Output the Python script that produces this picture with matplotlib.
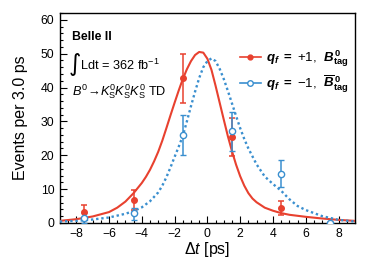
import matplotlib.pyplot as plt
import numpy as np
from matplotlib.lines import Line2D
from matplotlib.ticker import MultipleLocator

plt.rcParams['font.family'] = ['Liberation Sans', 'DejaVu Sans']
plt.rcParams['mathtext.fontset'] = 'custom'
plt.rcParams['mathtext.rm'] = 'Liberation Sans'
plt.rcParams['mathtext.it'] = 'Liberation Sans:italic'
plt.rcParams['mathtext.bf'] = 'Liberation Sans:bold'
plt.rcParams['mathtext.bfit'] = 'Liberation Sans:italic:bold'

# binned data (bin centres, 3 ps bins)
dt_bins = [-7.5, -4.5, -1.5, 1.5, 4.5, 7.5]
red_y = [3.3, 6.8, 42.7, 25.5, 4.5, 0.1]
red_lo = [1.9, 2.9, 7.2, 5.6, 2.1, 0.1]
red_hi = [2.0, 2.8, 7.3, 5.4, 2.0, 0.0]
blue_y = [1.4, 2.9, 26.0, 27.1, 14.5, 0.1]
blue_lo = [1.4, 2.0, 5.8, 5.9, 4.0, 0.1]
blue_hi = [1.5, 1.5, 5.8, 5.7, 4.0, 0.0]

# fit curves
red_x = [-9, -8, -7, -6, -5.5, -5, -4.5, -4, -3.75, -3.5, -3.25, -3, -2.75, -2.5,
         -2.25, -2, -1.75, -1.5, -1.25, -1, -0.75, -0.5, -0.25, 0, 0.25, 0.5, 0.75,
         1, 1.25, 1.5, 1.75, 2, 2.25, 2.5, 2.75, 3, 3.5, 4, 4.5, 5, 6, 7, 8, 9]
red_curve = [0.6, 1.1, 1.9, 3.2, 4.5, 6.3, 8.8, 11.8, 13.6, 15.7, 18.2, 21.0, 24.3,
             28.0, 31.8, 35.5, 39.1, 42.5, 45.4, 47.8, 49.6, 50.5, 50.3, 48.5, 45.2,
             40.5, 35.5, 30.5, 25.6, 21.2, 17.2, 13.8, 11.0, 8.8, 7.2, 6.1, 4.5, 3.6,
             2.9, 2.4, 1.8, 1.3, 0.9, 0.6]
blue_x = [-9, -8, -7, -6, -5, -4.5, -4, -3.5, -3, -2.75, -2.5, -2.25, -2, -1.75, -1.5,
          -1.25, -1, -0.75, -0.5, -0.25, 0, 0.25, 0.5, 0.75, 1, 1.25, 1.5, 1.75, 2,
          2.25, 2.5, 3, 3.5, 4, 4.5, 5, 5.5, 6, 7, 8, 9]
blue_curve = [0.4, 0.6, 1.0, 1.6, 2.7, 3.5, 4.6, 6.4, 9.0, 11.0, 13.5, 16.4, 19.5,
              22.5, 25.7, 30.0, 34.5, 38.8, 42.8, 46.0, 47.8, 48.6, 47.8, 45.5, 42.5,
              39.0, 35.3, 31.6, 28.0, 24.8, 22.0, 17.3, 13.7, 11.5, 9.5, 7.0, 5.0,
              3.8, 2.0, 0.9, 0.4]

red = '#e8412f'
blue = '#3a8fcf'

fig = plt.figure(figsize=(3.74, 2.66), dpi=100)
ax = fig.add_axes([0.160, 0.162, 0.789, 0.789])

ax.plot(red_x, red_curve, color=red, lw=1.5, zorder=3)
ax.plot(blue_x, blue_curve, color=blue, lw=1.7, ls=(0, (1, 1.2)), zorder=3)

ax.errorbar(dt_bins, red_y, yerr=[red_lo, red_hi], fmt='o', color=red, ms=4,
            elinewidth=1.1, capsize=2, capthick=1.1, zorder=4)
ax.errorbar(dt_bins, blue_y, yerr=[blue_lo, blue_hi], fmt='o', color=blue, ms=4.5,
            mfc='white', mew=1.0, elinewidth=1.1, capsize=2, capthick=1.1, zorder=4)

ax.set_xlim(-9, 9)
ax.set_ylim(0, 62)
ax.xaxis.set_major_locator(MultipleLocator(2))
ax.xaxis.set_minor_locator(MultipleLocator(0.5))
ax.yaxis.set_major_locator(MultipleLocator(10))
ax.yaxis.set_minor_locator(MultipleLocator(2))
ax.tick_params(which='both', direction='in', labelsize=8.8, width=0.8)
ax.tick_params(which='major', length=5, pad=4)
ax.tick_params(which='minor', length=2.5)
for s in ax.spines.values():
    s.set_linewidth(1.0)

ax.set_xlabel(r'$\it{\Delta t}$ [ps]', fontsize=11.5, labelpad=0)
ax.set_ylabel('Events per 3.0 ps', fontsize=11.5, labelpad=9)

ax.text(0.04, 0.885, 'Belle II', transform=ax.transAxes, fontsize=8.8,
        fontweight='bold', va='center')
ax.text(0.03, 0.755, '\u222b', transform=ax.transAxes, fontsize=17,
        family='DejaVu Sans', va='center')
ax.text(0.067, 0.75, r'Ldt = 362 fb$^{-1}$', transform=ax.transAxes,
        fontsize=9.2, va='center')
ax.text(0.04, 0.625, r'$B^0\!\rightarrow\!K^0_\mathrm{S}K^0_\mathrm{S}K^0_\mathrm{S}$ TD',
        transform=ax.transAxes, fontsize=9.2, va='center')

handles = [Line2D([], [], color=red, lw=1.2, marker='o', ms=3.5),
           Line2D([], [], color=blue, lw=1.2, marker='o', ms=4, mfc='white')]
labels = [r'$\mathbfit{q}_{\mathbfit{f}}$ $\mathbf{=}$ +1,  $\mathbfit{B}^{\,\mathbf{0}}_{\mathbf{tag}}$',
          r'$\mathbfit{q}_{\mathbfit{f}}$ $\mathbf{=}$ $-$1,  $\overline{\mathbfit{B}}^{\,\mathbf{0}}_{\mathbf{tag}}$']
ax.legend(handles, labels, loc='upper right', bbox_to_anchor=(1.01, 0.875),
          frameon=False, prop={'size': 9.5}, handlelength=1.6,
          handletextpad=0.4, labelspacing=0.3, borderaxespad=0.3)

fig.savefig('out.png', dpi=100)
